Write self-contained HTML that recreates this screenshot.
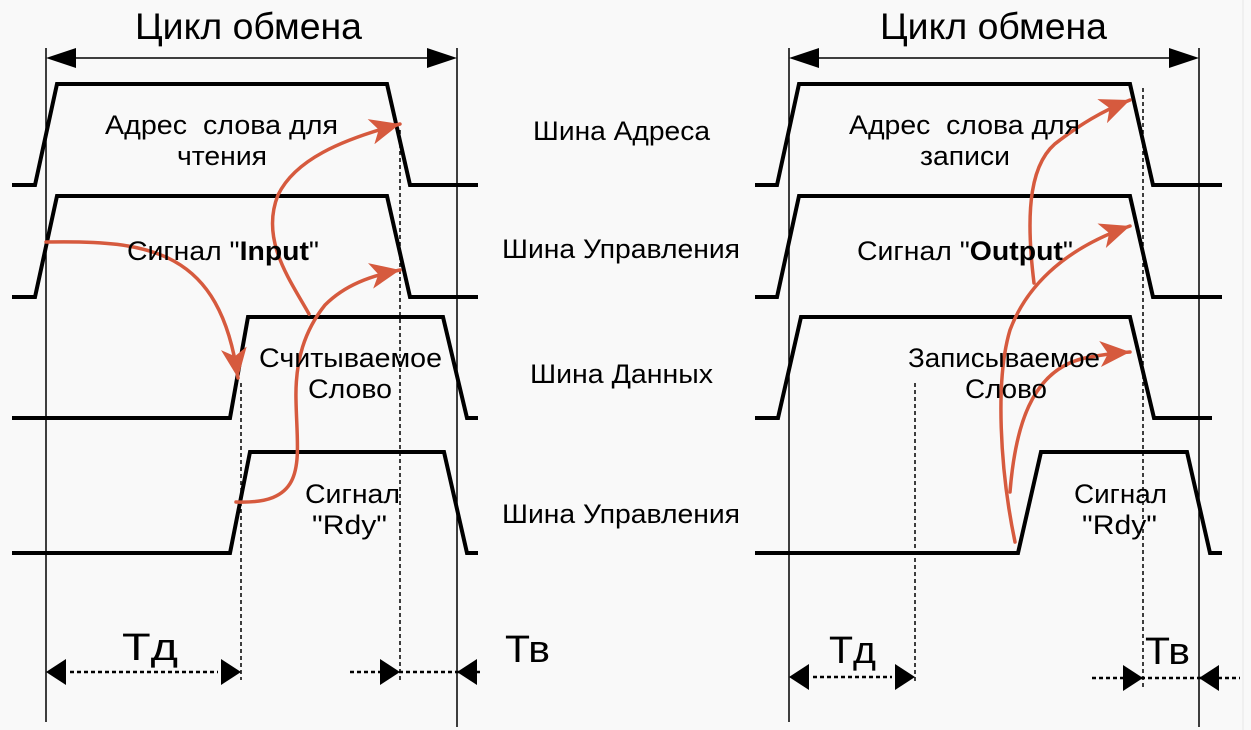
<!DOCTYPE html>
<html><head><meta charset="utf-8"><style>
html,body{margin:0;padding:0;background:#f9f9f9;}
svg{display:block;}
text{font-family:"Liberation Sans",sans-serif;fill:#000;}
</style></head><body>
<svg width="1251" height="730" viewBox="0 0 1251 730" xmlns="http://www.w3.org/2000/svg">
<defs>
<marker id="ra" markerUnits="userSpaceOnUse" markerWidth="34" markerHeight="26" refX="30" refY="13" orient="auto"><path d="M0,0 L30,13 L0,26 L8,13 Z" fill="#d65a3e"/></marker>
</defs>
<rect width="1251" height="730" fill="#f9f9f9"/>
<line x1="1243" y1="0" x2="1243" y2="730" stroke="#e6e6e6" stroke-width="1"/>
<g fill="none" stroke="#000">
<line x1="46" y1="48" x2="46" y2="722" stroke-width="1.5"/>
<line x1="457" y1="48" x2="457" y2="727" stroke-width="1.5"/>
<line x1="789" y1="48" x2="789" y2="722" stroke-width="1.5"/>
<line x1="1199" y1="48" x2="1199" y2="727" stroke-width="1.5"/>
<line x1="70" y1="58" x2="433" y2="58" stroke-width="1.5"/>
<line x1="813" y1="58" x2="1175" y2="58" stroke-width="1.5"/>
<g stroke-width="1.5" stroke-dasharray="4,3">
<line x1="241" y1="383" x2="241" y2="680"/>
<line x1="400" y1="130" x2="400" y2="680"/>
<line x1="915" y1="383" x2="915" y2="682"/>
<line x1="1143" y1="88" x2="1143" y2="690"/>
<line x1="70" y1="672" x2="218" y2="672" stroke-width="2.5"/>
<line x1="350" y1="672" x2="480" y2="672" stroke-width="2.5"/>
<line x1="813" y1="677" x2="892" y2="677" stroke-width="2.5"/>
<line x1="1092" y1="678" x2="1240" y2="678" stroke-width="2.5"/>
</g>
<g stroke-width="4" stroke-linejoin="miter">
<polyline points="12,185 35,185 57,84 387,84 410,185 478,185"/>
<polyline points="12,297 35,297 57,196 387,196 410,297 478,297"/>
<polyline points="12,418 230,418 248,317 443,317 467,418 478,418"/>
<polyline points="12,553 230,553 250,452 444,452 467,553 478,553"/>
<polyline points="755,185 777,185 799,84 1130,84 1153,185 1222,185"/>
<polyline points="755,297 777,297 799,196 1130,196 1153,297 1222,297"/>
<polyline points="755,418 778,418 801,317 1130,317 1154,418 1212,418"/>
<polyline points="755,553 1018,553 1041,452 1187,452 1210,553 1222,553"/>
</g>
</g>
<g fill="#000">
<polygon points="46,58 76,48 76,68"/>
<polygon points="457,58 427,48 427,68"/>
<polygon points="789,58 819,48 819,68"/>
<polygon points="1199,58 1169,48 1169,68"/>
<polygon points="46,672 66,659 66,685"/>
<polygon points="241,672 221,659 221,685"/>
<polygon points="400,672 380,659 380,685"/>
<polygon points="457,672 477,659 477,685"/>
<polygon points="789,677 809,664 809,690"/>
<polygon points="915,677 895,664 895,690"/>
<polygon points="1143,678 1123,665 1123,691"/>
<polygon points="1199,678 1219,665 1219,691"/>
</g>
<g fill="none" stroke="#d65a3e" stroke-width="3.5" stroke-linecap="round">
<path d="M46,242 C150,240 220,250 238,378" marker-end="url(#ra)"/>
<path d="M236,502 C310,505 297,460 296,400 C295,360 305,330 325,305 C345,285 370,276 400,270" marker-end="url(#ra)"/>
<path d="M309,314 C290,280 260,240 278,195 C295,160 340,140 400,124" marker-end="url(#ra)"/>
<path d="M1015,542 C1000,470 995,380 1010,330 C1025,290 1060,250 1130,226" marker-end="url(#ra)"/>
<path d="M1034,283 C1025,210 1030,160 1060,140 C1080,125 1100,112 1130,100" marker-end="url(#ra)"/>
<path d="M1010,492 C1015,430 1030,370 1085,358 C1100,355 1115,353 1130,352" marker-end="url(#ra)"/>
</g>
<g lengthAdjust="spacingAndGlyphs">
<text x="135" y="39" font-size="37" textLength="227" lengthAdjust="spacingAndGlyphs">Цикл обмена</text>
<text x="880" y="39" font-size="37" textLength="227" lengthAdjust="spacingAndGlyphs">Цикл обмена</text>
<text x="105" y="134" font-size="27" textLength="233" lengthAdjust="spacingAndGlyphs" xml:space="preserve">Адрес  слова для</text>
<text x="177" y="165" font-size="27" textLength="90" lengthAdjust="spacingAndGlyphs">чтения</text>
<text x="127" y="260" font-size="27" textLength="192" lengthAdjust="spacingAndGlyphs">Сигнал "<tspan font-weight="bold">Input</tspan>"</text>
<text x="259" y="367" font-size="27" textLength="183" lengthAdjust="spacingAndGlyphs">Считываемое</text>
<text x="308" y="398" font-size="27" textLength="84" lengthAdjust="spacingAndGlyphs">Слово</text>
<text x="305" y="503" font-size="27" textLength="95" lengthAdjust="spacingAndGlyphs">Сигнал</text>
<text x="312" y="534" font-size="27" textLength="75" lengthAdjust="spacingAndGlyphs">"Rdy"</text>
<text x="533" y="140" font-size="27" textLength="177" lengthAdjust="spacingAndGlyphs">Шина Адреса</text>
<text x="502" y="258" font-size="27" textLength="238" lengthAdjust="spacingAndGlyphs">Шина Управления</text>
<text x="530" y="383" font-size="27" textLength="183" lengthAdjust="spacingAndGlyphs">Шина Данных</text>
<text x="502" y="523" font-size="27" textLength="238" lengthAdjust="spacingAndGlyphs">Шина Управления</text>
<text x="849" y="134" font-size="27" textLength="231" lengthAdjust="spacingAndGlyphs" xml:space="preserve">Адрес  слова для</text>
<text x="920" y="165" font-size="27" textLength="90" lengthAdjust="spacingAndGlyphs">записи</text>
<text x="857" y="260" font-size="27" textLength="216" lengthAdjust="spacingAndGlyphs">Сигнал "<tspan font-weight="bold">Output</tspan>"</text>
<text x="908" y="367" font-size="27" textLength="192" lengthAdjust="spacingAndGlyphs">Записываемое</text>
<text x="965" y="398" font-size="27" textLength="82" lengthAdjust="spacingAndGlyphs">Слово</text>
<text x="1074" y="503" font-size="27" textLength="93" lengthAdjust="spacingAndGlyphs">Сигнал</text>
<text x="1082" y="534" font-size="27" textLength="75" lengthAdjust="spacingAndGlyphs">"Rdy"</text>
<text x="122" y="660" font-size="38" textLength="56" lengthAdjust="spacingAndGlyphs">Тд</text>
<text x="505" y="662" font-size="38" textLength="45" lengthAdjust="spacingAndGlyphs">Тв</text>
<text x="829" y="663" font-size="38" textLength="47" lengthAdjust="spacingAndGlyphs">Тд</text>
<text x="1145" y="664" font-size="38" textLength="45" lengthAdjust="spacingAndGlyphs">Тв</text>
</g>
</svg>
</body></html>
